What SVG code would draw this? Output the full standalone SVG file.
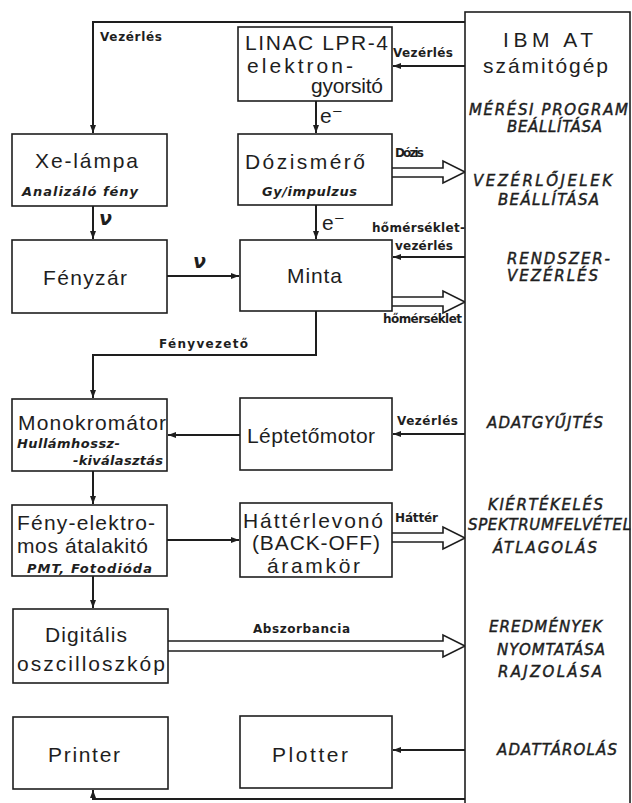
<svg xmlns="http://www.w3.org/2000/svg" width="632" height="803" viewBox="0 0 632 803">
<style>
text{font-family:"DejaVu Sans","Liberation Sans",sans-serif;fill:#1e1e1e}
.bt{font-family:"Liberation Sans","DejaVu Sans",sans-serif;font-size:21px}
.it{font-size:13px;font-style:italic;font-weight:bold}
.lb{font-size:12px;font-weight:bold}
.rc{font-size:15px;font-style:italic;stroke:#1e1e1e;stroke-width:0.45}
.gr{font-size:19px;font-weight:bold;font-style:italic}
.box{fill:#fff;stroke:#1e1e1e;stroke-width:1.6}
.ln{fill:none;stroke:#1e1e1e;stroke-width:2}
.ha{fill:#fff;stroke:#1e1e1e;stroke-width:1.6}
</style>
<defs>
<marker id="ah" markerUnits="userSpaceOnUse" markerWidth="9" markerHeight="7" refX="8" refY="3.5" orient="auto">
<path d="M0,0.5 L8,3.5 L0,6.5 z" fill="#1e1e1e"/>
</marker>
</defs>
<rect width="632" height="803" fill="#fff"/>

<g id="connectors">
<path class="ln" d="M465,22 H93 V133" marker-end="url(#ah)"/>
<path class="ln" d="M465,66 H393" marker-end="url(#ah)"/>
<path class="ln" d="M316,101 V133" marker-end="url(#ah)"/>
<path class="ln" d="M93,206 V239" marker-end="url(#ah)"/>
<path class="ln" d="M167,276 H239" marker-end="url(#ah)"/>
<path class="ln" d="M316,205 V239" marker-end="url(#ah)"/>
<path class="ln" d="M465,257 H393" marker-end="url(#ah)"/>
<path class="ln" d="M316,311 V355 H93 V398" marker-end="url(#ah)"/>
<path class="ln" d="M240,435 H168" marker-end="url(#ah)"/>
<path class="ln" d="M465,434 H393" marker-end="url(#ah)"/>
<path class="ln" d="M93,471 V504" marker-end="url(#ah)"/>
<path class="ln" d="M167,540 H239" marker-end="url(#ah)"/>
<path class="ln" d="M93,576 V608" marker-end="url(#ah)"/>
<path class="ln" d="M465,750 H393" marker-end="url(#ah)"/>
<path class="ln" d="M465,799 H93 V790" marker-end="url(#ah)"/>
<path class="ha" d="M392,168 H443 V161 L465,172 L443,183 V177 H392"/>
<path class="ha" d="M392,297 H443 V291 L465,302 L443,313 V306 H392"/>
<path class="ha" d="M392,533 H443 V527 L465,538 L443,549 V542 H392"/>
<path class="ha" d="M168,641 H443 V635 L465,646 L443,657 V651 H168"/>
<text class="lb" x="100" y="41" textLength="62">Vezérlés</text>
<text class="lb" x="393" y="57" textLength="60">Vezérlés</text>
<text class="lb" x="395" y="157" textLength="29">Dózis</text>
<text class="lb" x="372" y="232" textLength="93">hőmérséklet-</text>
<text class="lb" x="395" y="250" textLength="58">vezérlés</text>
<text class="lb" x="383" y="323" textLength="79">hőmérséklet</text>
<text class="lb" x="159" y="348" textLength="89">Fényvezető</text>
<text class="lb" x="397" y="425" textLength="61">Vezérlés</text>
<text class="lb" x="395" y="522" textLength="43">Háttér</text>
<text class="lb" x="253" y="633" textLength="97">Abszorbancia</text>
<text class="bt" x="320" y="123">e⁻</text>
<text class="bt" x="322" y="230">e⁻</text>
<text class="gr" x="99" y="225">ν</text>
<text class="gr" x="193" y="268">ν</text>
</g>

<g id="ibm">
<rect class="box" x="465" y="12" width="165" height="800"/>
<text class="bt" x="503" y="47" textLength="90">IBM AT</text>
<text class="bt" x="483" y="73" textLength="125">számitógép</text>
<text class="rc" x="469" y="115" textLength="159">MÉRÉSI PROGRAM</text>
<text class="rc" x="507" y="132" textLength="95">BEÁLLÍTÁSA</text>
<text class="rc" x="473" y="186" textLength="139">VEZÉRLŐJELEK</text>
<text class="rc" x="498" y="205" textLength="101">BEÁLLÍTÁSA</text>
<text class="rc" x="507" y="264" textLength="103">RENDSZER-</text>
<text class="rc" x="507" y="281" textLength="91">VEZÉRLÉS</text>
<text class="rc" x="487" y="428" textLength="116">ADATGYŰJTÉS</text>
<text class="rc" x="488" y="510" textLength="115">KIÉRTÉKELÉS</text>
<text class="rc" x="468" y="530" textLength="163">SPEKTRUMFELVÉTEL</text>
<text class="rc" x="493" y="553" textLength="104">ÁTLAGOLÁS</text>
<text class="rc" x="489" y="632" textLength="113">EREDMÉNYEK</text>
<text class="rc" x="497" y="655" textLength="108">NYOMTATÁSA</text>
<text class="rc" x="498" y="677" textLength="104">RAJZOLÁSA</text>
<text class="rc" x="497" y="755" textLength="120">ADATTÁROLÁS</text>
</g>

<g id="linac">
<rect class="box" x="238" y="27" width="154" height="74"/>
<text class="bt" x="245" y="50" textLength="143">LINAC LPR-4</text>
<text class="bt" x="247" y="73" textLength="106">elektron-</text>
<text class="bt" x="311" y="93" textLength="72">gyorsitó</text>
</g>

<g id="xe">
<rect class="box" x="12" y="134" width="155" height="72"/>
<text class="bt" x="35" y="168" textLength="103">Xe-lámpa</text>
<text class="it" x="22" y="196" textLength="116">Analizáló fény</text>
</g>

<g id="dozis">
<rect class="box" x="238" y="134" width="154" height="71"/>
<text class="bt" x="245" y="169" textLength="120">Dózismérő</text>
<text class="it" x="262" y="196" textLength="95">Gy/impulzus</text>
</g>

<g id="fenyzar">
<rect class="box" x="12" y="240" width="155" height="73"/>
<text class="bt" x="43" y="285" textLength="84">Fényzár</text>
</g>

<g id="minta">
<rect class="box" x="240" y="240" width="152" height="71"/>
<text class="bt" x="287" y="283" textLength="55">Minta</text>
</g>

<g id="mono">
<rect class="box" x="12" y="399" width="155" height="72"/>
<text class="bt" x="18" y="430" textLength="148">Monokromátor</text>
<text class="it" x="17" y="448" textLength="103">Hullámhossz-</text>
<text class="it" x="73" y="465" textLength="90">-kiválasztás</text>
</g>

<g id="lepteto">
<rect class="box" x="240" y="398" width="152" height="72"/>
<text class="bt" x="247" y="443" textLength="128">Léptetőmotor</text>
</g>

<g id="fenyel">
<rect class="box" x="12" y="505" width="155" height="71"/>
<text class="bt" x="17" y="530" textLength="138">Fény-elektro-</text>
<text class="bt" x="17" y="553" textLength="131">mos átalakitó</text>
<text class="it" x="27" y="573" textLength="125">PMT, Fotodióda</text>
</g>

<g id="hatter">
<rect class="box" x="240" y="503" width="152" height="74"/>
<text class="bt" x="243" y="528" textLength="140">Háttérlevonó</text>
<text class="bt" x="252" y="550" textLength="128">(BACK-OFF)</text>
<text class="bt" x="267" y="573" textLength="93">áramkör</text>
</g>

<g id="digitalis">
<rect class="box" x="13" y="609" width="155" height="74"/>
<text class="bt" x="45" y="642" textLength="82">Digitális</text>
<text class="bt" x="17" y="671" textLength="148">oszcilloszkóp</text>
</g>

<g id="printer">
<rect class="box" x="13" y="717" width="155" height="72"/>
<text class="bt" x="48" y="762" textLength="72">Printer</text>
</g>

<g id="plotter">
<rect class="box" x="240" y="716" width="152" height="72"/>
<text class="bt" x="272" y="762" textLength="76">Plotter</text>
</g>
</svg>
